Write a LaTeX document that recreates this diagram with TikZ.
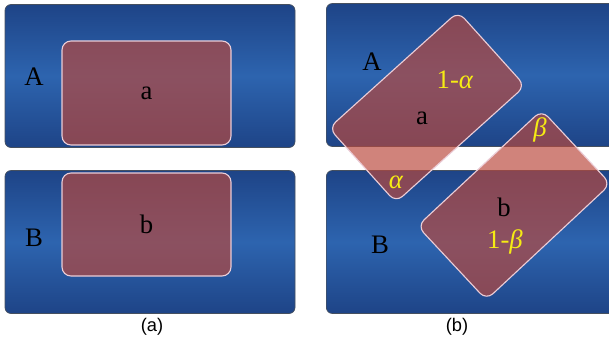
\documentclass[tikz,border=0pt]{standalone}
\usepackage{fontspec}
\setmainfont{Liberation Serif}
\newfontfamily\capfont{Liberation Sans}
\usepackage{xcolor}
\usepackage{tikz}
\definecolor{boxdark}{RGB}{30,68,135}
\definecolor{boxmid}{RGB}{45,100,175}
\definecolor{boxedge}{RGB}{70,80,95}
\definecolor{slab}{RGB}{185,72,60}
\definecolor{slabedge}{RGB}{235,205,215}
\definecolor{fraction}{RGB}{245,235,20}
\def\px{0.025cm}
\tikzset{
  region/.style ={draw=boxedge, line width=0.5pt, rounded corners=6*\px,
                  top color=boxdark, bottom color=boxdark, middle color=boxmid,
                  minimum height=143*\px, inner sep=0pt},
  cell/.style   ={draw=slabedge, line width=0.8pt, rounded corners=9*\px,
                  fill=slab, fill opacity=0.68, text opacity=1, inner sep=0pt,
                  font=\fontsize{19}{22}\selectfont},
  lbl/.style    ={font=\fontsize{19}{22}\selectfont, inner sep=0pt},
  share/.style  ={lbl, text=fraction},
  subcap/.style ={font=\capfont\fontsize{13}{15}\selectfont, inner sep=0pt},
}

\begin{document}
\begin{tikzpicture}[x=\px,y=-\px]
  \clip (0,0) rectangle (609,345);
  % (a) cells sitting inside their regions
  \node[region, minimum width=290*\px] (ra) at (150,76) {};
  \node[region, minimum width=290*\px] (rb) at (150,242) {};
  \node[cell, minimum width=169*\px, minimum height=104*\px] (ca) at (146.5,93) {a};
  \node[cell, minimum width=169*\px, minimum height=103*\px] (cb) at (146.5,224.5) {b};
  \node[lbl] (la) at (34,77) {A};
  \node[lbl] (lb) at (34,238) {B};
  \node[subcap] (capa) at (152,327) {(a)};

  % (b) tilted cells reaching across the gap
  \node[region, minimum width=360*\px, anchor=west] (rA) at (326,75) {};
  \node[region, minimum width=360*\px, anchor=west] (rB) at (326,242) {};
  \node[cell, minimum width=174*\px, minimum height=100*\px, rotate=42] (cA) at (427,107) {};
  \node[cell, minimum width=170*\px, minimum height=101*\px, rotate=43] (cB) at (514,205) {};
  \node[lbl] (lA) at (372,62) {A};
  \node[lbl] (lB) at (380,245) {B};
  \node[lbl] (na) at (422,118) {a};
  \node[lbl] (nb) at (504,207) {b};
  \node[share] (fa1) at (455,80) {1-\textit{α}};
  \node[share] (fa) at (396,182) {\textit{α}};
  \node[share] (fb) at (540,130) {\textit{β}};
  \node[share] (fb1) at (505,242) {1-\textit{β}};
  \node[subcap] (capb) at (457,327) {(b)};
\end{tikzpicture}
\end{document}
